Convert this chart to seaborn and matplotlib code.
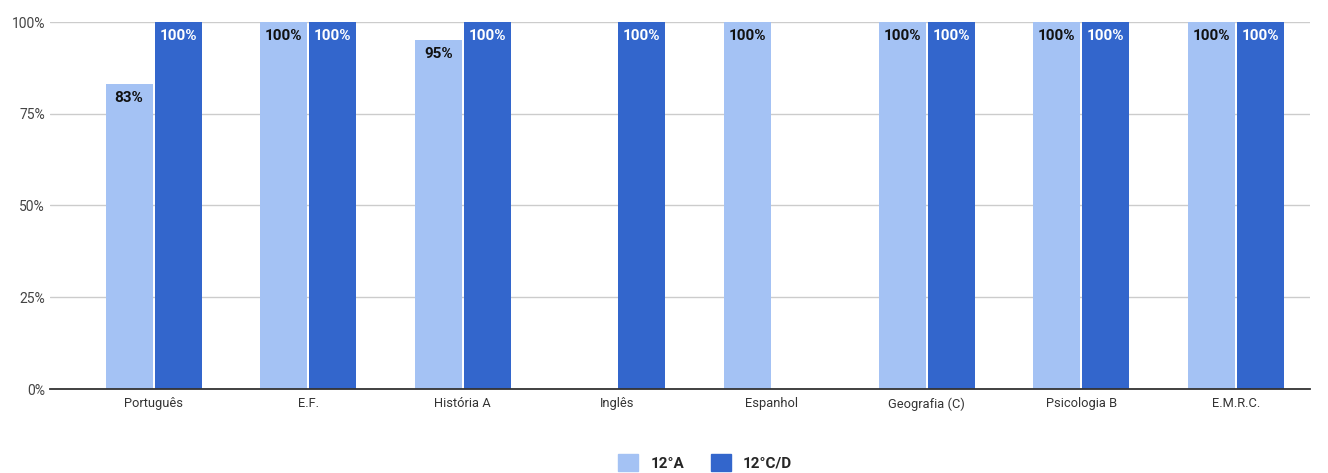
import matplotlib
matplotlib.use("Agg")
from matplotlib import pyplot as plt
import seaborn as sns
import pandas as pd
import numpy as np

# valores
disciplinas = ['Português', 'E.F.', 'História A', 'Inglês', 'Espanhol',
               'Geografia (C)', 'Psicologia B', 'E.M.R.C.']
turma_a = [83, 100, 95, np.nan, 100, 100, 100, 100]
turma_cd = [100, 100, 100, 100, np.nan, 100, 100, 100]
turmas = ['12°A', '12°C/D']
cores = ['#a4c2f4', '#3366cc']

sns.set_style('white')
plt.rcParams['font.family'] = ['Roboto', 'DejaVu Sans']

df = pd.DataFrame({
    'disciplina': disciplinas * 2,
    'turma': [turmas[0]] * len(disciplinas) + [turmas[1]] * len(disciplinas),
    'valor': turma_a + turma_cd,
})

fig = plt.figure(figsize=(13.28, 4.73), dpi=100)
ax = fig.add_axes([50 / 1328, 1 - 389 / 473, 1260 / 1328, 367 / 473])

sns.barplot(data=df, x='disciplina', y='valor', hue='turma', hue_order=turmas,
            palette=cores, width=0.634, gap=0.04, ax=ax, legend=False,
            order=disciplinas, saturation=1, linewidth=0)

ax.set_ylim(0, 100)
ax.set_xlim(-0.67, 7.48)
ax.set_yticks([0, 25, 50, 75, 100])
ax.set_yticklabels(['0%', '25%', '50%', '75%', '100%'])
ax.yaxis.grid(True, color='#cccccc', linewidth=1)
ax.set_axisbelow(True)
for s in ['top', 'right', 'left']:
    ax.spines[s].set_visible(False)
ax.spines['bottom'].set_color('#333333')
ax.spines['bottom'].set_linewidth(1.3)
ax.tick_params(axis='y', length=0, labelsize=10, colors='#444444')
ax.tick_params(axis='x', length=0, labelsize=9.3, colors='#333333', pad=6)
ax.set_xlabel('')
ax.set_ylabel('')

# rotulos dentro das barras
for cont, cor_txt in zip(ax.containers, ['#111111', 'white']):
    labels = ['' if np.isnan(b.get_height()) else '%d%%' % b.get_height() for b in cont]
    ax.bar_label(cont, labels=labels, label_type='edge', padding=-15,
                 color=cor_txt, fontsize=11, fontweight='bold')

handles = [plt.Rectangle((0, 0), 1, 1, color=c) for c in cores]
fig.legend(handles, turmas, loc='lower center', bbox_to_anchor=(0.531, -0.025),
           ncol=2, frameon=False, handlelength=1.3, handleheight=1.3,
           columnspacing=1.75, prop={'weight': 'bold', 'size': 11})

fig.savefig('out.png', dpi=100)
